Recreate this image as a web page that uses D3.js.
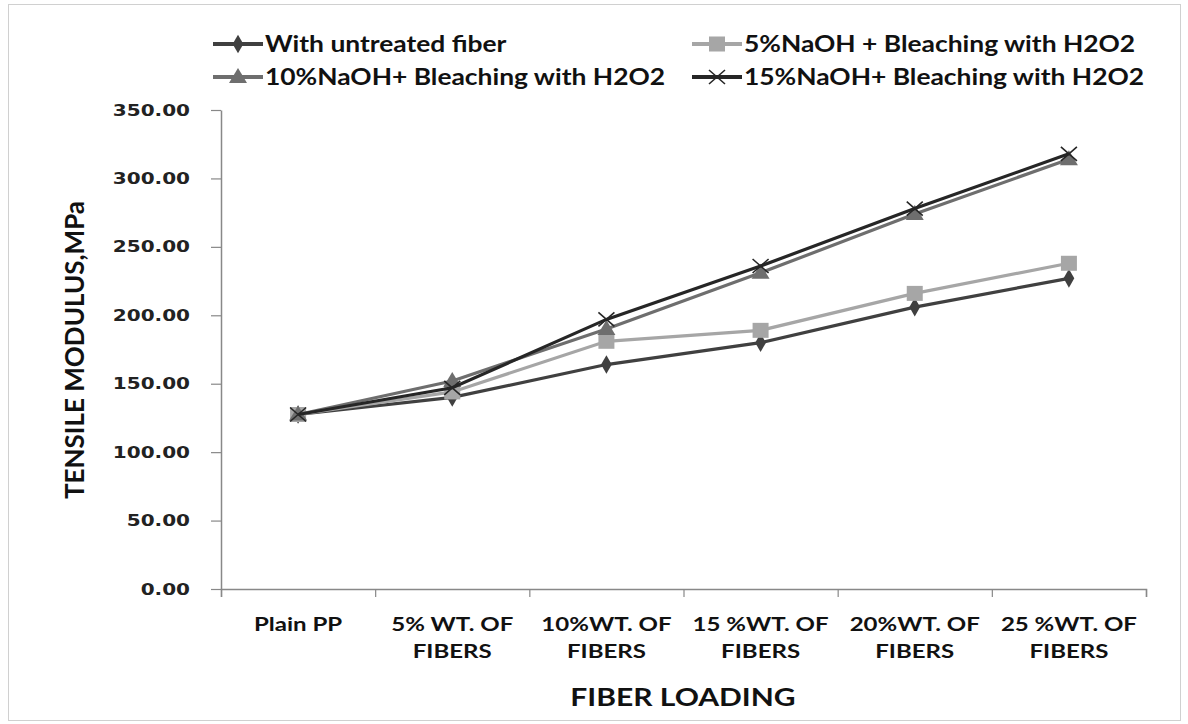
<!DOCTYPE html>
<html><head><meta charset="utf-8">
<script src="https://cdn.jsdelivr.net/npm/d3@7/dist/d3.min.js"></script>
<style>body{margin:0;background:#fff;} svg{display:block;}</style>
</head><body>
<svg id="chart" width="1188" height="724"></svg>
<script>
const categories = [["Plain PP"],["5% WT. OF","FIBERS"],["10%WT. OF","FIBERS"],["15 %WT. OF","FIBERS"],["20%WT. OF","FIBERS"],["25 %WT. OF","FIBERS"]];
const seriesNames = ["With untreated fiber","5%NaOH + Bleaching with H2O2","10%NaOH+ Bleaching with H2O2","15%NaOH+ Bleaching with H2O2"];
const untreated = [127.5, 140, 164, 180, 206, 227];
const naoh5 = [127.5, 144, 181, 189, 216, 238];
const naoh10 = [127.5, 152, 190, 231, 274, 314];
const naoh15 = [127.5, 147, 197, 236, 278, 318];
const yTicks = [0, 50, 100, 150, 200, 250, 300, 350];

const svg = d3.select("#chart");
svg.append("rect").attr("x",8.5).attr("y",4.5).attr("width",1172).attr("height",716).attr("fill","none").attr("stroke","#d0d0d0");

const x = d3.scaleBand().domain(d3.range(categories.length)).range([221, 1146]);
const y = d3.scaleLinear().domain([0, 350]).range([589, 110]);

const colors = ["#404040", "#a6a6a6", "#6e6e6e", "#262626"];
const shapes = ["diamond", "square", "triangle", "x"];
const data = [untreated, naoh5, naoh10, naoh15];

// y axis
const yAxis = svg.append("g").attr("transform","translate(221,0)")
  .call(d3.axisLeft(y).tickValues(yTicks).tickFormat(d3.format(".2f")).tickSize(10).tickSizeOuter(0).tickPadding(20));
yAxis.select(".domain").attr("stroke","#888").attr("stroke-width",1.5);
yAxis.selectAll(".tick line").attr("stroke","#888").attr("stroke-width",1.2);
yAxis.selectAll(".tick text").attr("font-family","DejaVu Sans").attr("font-weight","bold").attr("font-size",16).attr("fill","#222")
  .attr("x", 0).attr("transform","translate(-31,0) scale(1.25,1)");

// x axis
const xAxis = svg.append("g").attr("transform","translate(0,589)")
  .call(d3.axisBottom(d3.scaleLinear().domain([0,6]).range([221,1146])).tickValues(d3.range(0,7)).tickSize(8).tickFormat(""));
xAxis.select(".domain").attr("stroke","#888").attr("stroke-width",1.5);
xAxis.selectAll(".tick line").attr("stroke","#888").attr("stroke-width",1.2);

const xl = svg.append("g");
categories.forEach((c, i) => {
  const cx = x(i) + x.bandwidth()/2;
  const t = xl.append("text").attr("transform", `translate(${cx},631) scale(1.3,1)`)
    .attr("text-anchor","middle").attr("font-family","Lato").attr("font-weight","bold").attr("font-size",18.5).attr("fill","#111");
  c.forEach((line, j) => t.append("tspan").attr("x", 0).attr("dy", j === 0 ? 0 : 27).text(line));
});

svg.append("text").attr("transform","translate(683,706) scale(1.2,1)").attr("text-anchor","middle")
  .attr("font-family","Lato").attr("font-weight","bold").attr("font-size",25).attr("fill","#111").text("FIBER LOADING");

svg.append("text").attr("transform","translate(84,350) rotate(-90)").attr("text-anchor","middle")
  .attr("font-family","Lato").attr("font-size",26).attr("font-weight","bold").attr("fill","#111").text("TENSILE MODULUS,MPa");

function drawMarker(g, shape, cx, cy, color) {
  if (shape === "diamond") {
    g.append("path").attr("d", d3.symbol(d3.symbolDiamond, 100)()).attr("transform",`translate(${cx},${cy})`).attr("fill", color);
  } else if (shape === "square") {
    g.append("rect").attr("x", cx-8).attr("y", cy-7.5).attr("width",16).attr("height",15).attr("fill", color);
  } else if (shape === "triangle") {
    g.append("path").attr("d", `M${cx-9},${cy+6}L${cx+9},${cy+6}L${cx},${cy-9}Z`).attr("fill", color);
  } else {
    g.append("path").attr("d", `M${cx-8},${cy-7}L${cx+8},${cy+7}M${cx-8},${cy+7}L${cx+8},${cy-7}`).attr("stroke", color).attr("stroke-width",1.6);
  }
}

const line = d3.line().x((d, i) => x(i) + x.bandwidth()/2).y(d => y(d));
data.forEach((s, k) => {
  const g = svg.append("g");
  g.append("path").datum(s).attr("d", line).attr("fill","none").attr("stroke", colors[k]).attr("stroke-width", 3.2);
  s.forEach((v, i) => drawMarker(g, shapes[k], x(i) + x.bandwidth()/2, y(v), colors[k]));
});

// legend
const legendPos = [[213, 44], [692, 44], [213, 77], [692, 77]];
seriesNames.forEach((name, k) => {
  const [lx, ly] = legendPos[k];
  const g = svg.append("g");
  g.append("line").attr("x1", lx).attr("x2", lx + 50).attr("y1", ly).attr("y2", ly).attr("stroke", colors[k]).attr("stroke-width", 4);
  drawMarker(g, shapes[k], lx + 25, ly, colors[k]);
  g.append("text").attr("transform", `translate(${lx + 52},${ly + 8}) scale(1.2,1)`).attr("font-family","Lato").attr("font-weight","bold").attr("font-size",22).attr("fill","#111").text(name);
});
</script>
</body></html>
